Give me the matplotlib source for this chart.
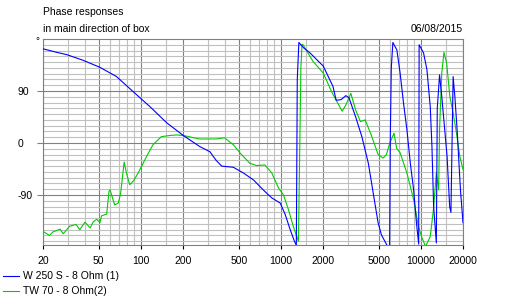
import matplotlib
matplotlib.use("Agg")
import matplotlib.pyplot as plt
from matplotlib.lines import Line2D

plt.rcParams['font.family'] = ['Liberation Sans', 'DejaVu Sans']
plt.rcParams['font.size'] = 7.5

# W 250 S - 8 Ohm (1)
blue_f = [20, 25, 29.5, 38.8, 51, 67, 88, 116, 153, 201, 263, 311, 345, 378, 458,
          541, 638, 720, 793, 862, 990, 1075, 1166, 1250, 1290, 1310, 1345, 1450,
          1614, 2010, 2356, 2484, 2690, 2915, 3070, 3412, 3790, 4215, 4950, 5228,
          5760, 5980, 6050, 6150, 6310, 6740, 7110, 7520, 7950, 8410, 8880, 9300,
          9650, 9720, 10450, 11050, 11670, 12000, 12340, 12900, 13100, 13600,
          14100, 15390, 16060, 16400, 17000, 17500, 18150, 19180, 20000]
blue_p = [163, 157, 153, 143, 131, 115, 89, 63, 35, 13, -6, -15, -30, -40, -42,
          -52, -64, -77, -87, -95, -104, -124, -150, -170, -177, 110, 174, 165,
          156, 133, 98, 74, 75, 82, 78, 46, 11, -35, -138, -159,
          -178, -178, 10, 130, 174, 161, 121, 69, 23, -35, -81, -138,
          -175, 170, 156, 127, 63, -6, -110, -173, 60, 118,
          81, -23, -110, -120, 115, 80, 23, -81, -138]

# TW 70 - 8 Ohm(2)
green_f = [20, 22.3, 23.5, 26.5, 27.9, 31, 34.5, 36.6, 39.9, 43.4, 45.8, 48.5, 51,
           52.4, 57, 59.2, 60.2, 65, 69, 71.7, 76, 78.9, 83.2, 88.3, 95.6, 110,
           122, 140, 161, 180, 201, 230, 263, 345, 396, 458, 510, 600, 670, 769,
           862, 963, 1045, 1132, 1226, 1335, 1390, 1417, 1440, 1700, 2010, 2300,
           2550, 2740, 2915, 3160, 3412, 3700, 4000, 4420, 4950, 5370, 5670, 6000,
           6430, 6710, 7110, 7950, 8880, 9600, 10110, 10800, 11670, 12300, 12900,
           13400, 13600, 14100, 14630, 15290, 16100, 17000, 17970, 18980, 20000]
green_p = [-153, -160, -154, -149, -157, -144, -141, -150, -137, -147, -136, -132, -138,
           -126, -123, -84, -81, -107, -104, -87, -33, -52, -72, -66, -52, -23,
           -3, 11, 13, 14, 13, 10, 7, 7, 9, -3, -17, -35, -39, -38,
           -52, -78, -90, -115, -144, -170, 130, 171, 170, 141, 121, 89,
           69, 55, 66, 86, 58, 37, 40, 14, -20, -26, -20, 0,
           17, -9, -17, -52, -98, -144, -162, -179, -162, -115, -52,
           -81, 23, 121, 157, 138, 81, 52, 17, -23, -46]

x_major = [20, 50, 100, 200, 500, 1000, 2000, 5000, 10000, 20000]
x_minor = [30, 40, 60, 70, 80, 90, 150, 300, 400, 600, 700, 800, 900, 1500,
           3000, 4000, 6000, 7000, 8000, 9000, 15000]
y_major = [-90, 0, 90]

W, H = 510, 305
fig = plt.figure(figsize=(W / 100, H / 100), dpi=100)
ax = fig.add_axes([43 / W, 60 / H, 420 / W, 206 / H])

ax.plot(blue_f, blue_p, color='#0000ff', lw=0.8, zorder=3)
ax.plot(green_f, green_p, color='#00cc00', lw=0.8, zorder=2)

ax.set_xscale('log')
ax.set_xlim(20, 20000)
ax.set_ylim(-176.5, 180)

ax.set_xticks(x_major)
ax.set_xticklabels([str(v) for v in x_major])
ax.set_xticks(x_minor, minor=True)
ax.set_xticklabels([], minor=True)
ax.set_yticks(y_major)
ax.set_yticklabels([str(v) for v in y_major])
ax.set_yticks([v for v in range(-170, 180, 10) if v % 90 != 0], minor=True)

ax.grid(which='minor', color='#c0c0c0', lw=0.8, zorder=0)
ax.grid(which='major', color='#808080', lw=0.8, zorder=1)
ax.set_axisbelow(True)
ax.tick_params(which='minor', length=0)
ax.tick_params(axis='x', which='major', length=3, width=0.8, color='#000000', pad=5)
ax.tick_params(axis='y', which='major', length=4, width=0.8, color='#808080', pad=14)
for lab in ax.get_yticklabels():
    lab.set_horizontalalignment('left')
for s in ax.spines.values():
    s.set_color('#808080')
    s.set_linewidth(0.8)

fig.text(43 / W, 1 - 15 / H, 'Phase responses', va='baseline', ha='left')
fig.text(43 / W, 1 - 32 / H, 'in main direction of box', va='baseline', ha='left')
fig.text(463 / W, 1 - 32 / H, '06/08/2015', va='baseline', ha='right')
fig.text(37 / W, 1 - 41 / H, '\u00b0', va='center', ha='center', fontsize=7)

legend_items = [('W 250 S - 8 Ohm (1)', '#0000ff', 276),
                ('TW 70 - 8 Ohm(2)', '#00cc00', 291)]
for label, col, yy in legend_items:
    fig.add_artist(Line2D([3 / W, 19 / W], [1 - yy / H] * 2, color=col, lw=0.8,
                          transform=fig.transFigure))
    fig.text(23 / W, 1 - (yy + 3) / H, label, va='baseline', ha='left')

fig.savefig('out.png', dpi=100)
